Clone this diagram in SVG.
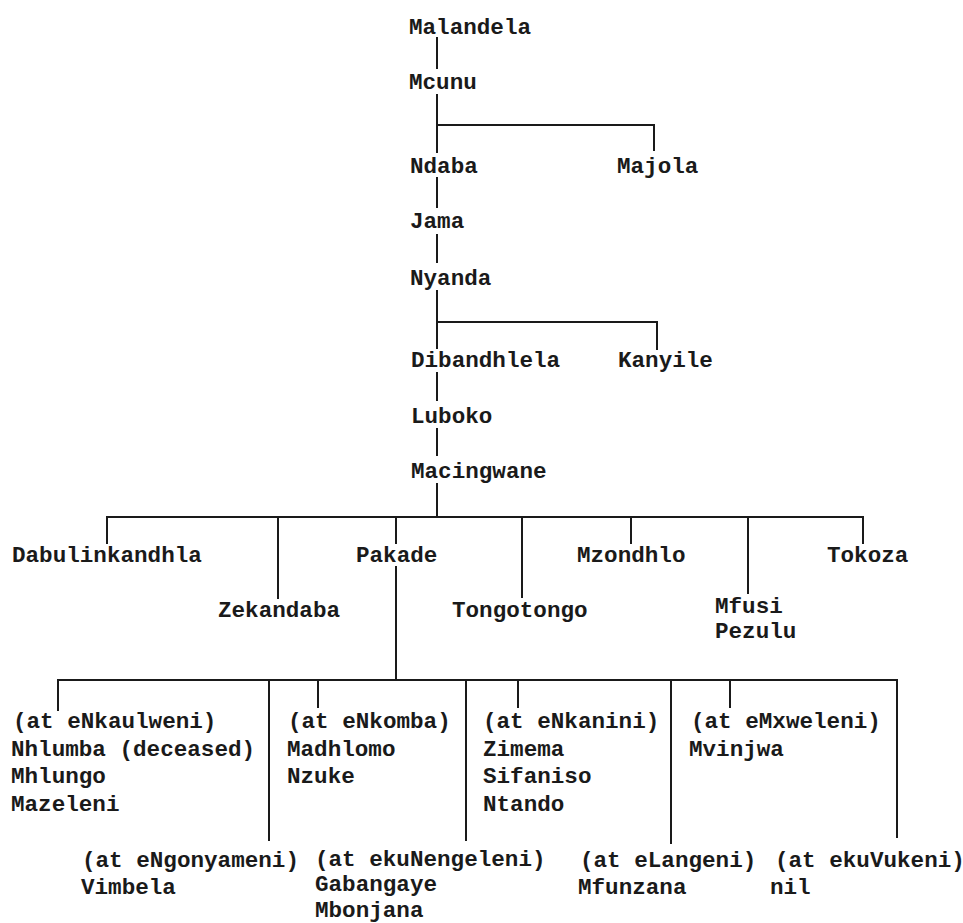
<svg xmlns="http://www.w3.org/2000/svg" width="963" height="923" viewBox="0 0 963 923">
<style>
text { font-family: "Liberation Mono", "Courier New", monospace; font-size: 22.6px; font-weight: bold; fill: #1a1a1a; }
.c line { stroke: #1a1a1a; stroke-width: 2; stroke-linecap: square; }
</style>
<rect x="0" y="0" width="963" height="923" fill="#ffffff"/>
<g id="connectors" class="c">
  <line x1="437" y1="38" x2="437" y2="68"/>
  <line x1="437" y1="95" x2="437" y2="152"/>
  <line x1="437" y1="125" x2="654" y2="125"/>
  <line x1="654" y1="125" x2="654" y2="150"/>
  <line x1="437" y1="178" x2="437" y2="207"/>
  <line x1="437" y1="235" x2="437" y2="262"/>
  <line x1="437" y1="291" x2="437" y2="348"/>
  <line x1="437" y1="322" x2="657" y2="322"/>
  <line x1="657" y1="322" x2="657" y2="349"/>
  <line x1="437" y1="373" x2="437" y2="400"/>
  <line x1="437" y1="429" x2="437" y2="455"/>
  <line x1="437" y1="484" x2="437" y2="517"/>
  <line x1="107" y1="517" x2="863" y2="517"/>
  <line x1="107" y1="517" x2="107" y2="543"/>
  <line x1="278" y1="517" x2="278" y2="598"/>
  <line x1="396" y1="517" x2="396" y2="543"/>
  <line x1="522" y1="517" x2="522" y2="597"/>
  <line x1="631" y1="517" x2="631" y2="543"/>
  <line x1="748" y1="517" x2="748" y2="593"/>
  <line x1="863" y1="517" x2="863" y2="543"/>
  <line x1="396" y1="567" x2="396" y2="680"/>
  <line x1="58" y1="680" x2="897" y2="680"/>
  <line x1="58" y1="680" x2="58" y2="710"/>
  <line x1="269" y1="680" x2="269" y2="840"/>
  <line x1="318" y1="680" x2="318" y2="707"/>
  <line x1="466" y1="680" x2="466" y2="840"/>
  <line x1="518" y1="680" x2="518" y2="707"/>
  <line x1="671" y1="680" x2="671" y2="843"/>
  <line x1="730" y1="680" x2="730" y2="707"/>
  <line x1="897" y1="680" x2="897" y2="837"/>
</g>
<g id="malandela"><text x="409" y="34">Malandela</text></g>
<g id="mcunu"><text x="409" y="89">Mcunu</text></g>
<g id="ndaba"><text x="410" y="173">Ndaba</text></g>
<g id="majola"><text x="617" y="173">Majola</text></g>
<g id="jama"><text x="410" y="228">Jama</text></g>
<g id="nyanda"><text x="410" y="285">Nyanda</text></g>
<g id="dibandhlela"><text x="411" y="367">Dibandhlela</text></g>
<g id="kanyile"><text x="618" y="367">Kanyile</text></g>
<g id="luboko"><text x="411" y="423">Luboko</text></g>
<g id="macingwane"><text x="411" y="478">Macingwane</text></g>
<g id="dabulinkandhla"><text x="12" y="562">Dabulinkandhla</text></g>
<g id="zekandaba"><text x="218" y="617">Zekandaba</text></g>
<g id="pakade"><text x="356" y="562">Pakade</text></g>
<g id="tongotongo"><text x="452" y="617">Tongotongo</text></g>
<g id="mzondhlo"><text x="577" y="562">Mzondhlo</text></g>
<g id="mfusi"><text x="715" y="613">Mfusi</text><text x="715" y="638">Pezulu</text></g>
<g id="tokoza"><text x="827" y="562">Tokoza</text></g>
<g id="enkaulweni"><text x="13" y="728">(at eNkaulweni)</text><text x="11" y="756">Nhlumba (deceased)</text><text x="11" y="783">Mhlungo</text><text x="11" y="811">Mazeleni</text></g>
<g id="enkomba"><text x="288" y="728">(at eNkomba)</text><text x="287" y="756">Madhlomo</text><text x="287" y="783">Nzuke</text></g>
<g id="enkanini"><text x="483" y="728">(at eNkanini)</text><text x="483" y="756">Zimema</text><text x="483" y="783">Sifaniso</text><text x="483" y="811">Ntando</text></g>
<g id="emxweleni"><text x="691" y="728">(at eMxweleni)</text><text x="689" y="756">Mvinjwa</text></g>
<g id="engonyameni"><text x="82" y="867">(at eNgonyameni)</text><text x="81" y="894">Vimbela</text></g>
<g id="ekunengeleni"><text x="315" y="866">(at ekuNengeleni)</text><text x="315" y="891">Gabangaye</text><text x="315" y="917">Mbonjana</text></g>
<g id="elangeni"><text x="580" y="867">(at eLangeni)</text><text x="578" y="894">Mfunzana</text></g>
<g id="ekuvukeni"><text x="775" y="867">(at ekuVukeni)</text><text x="770" y="894">nil</text></g>
</svg>
